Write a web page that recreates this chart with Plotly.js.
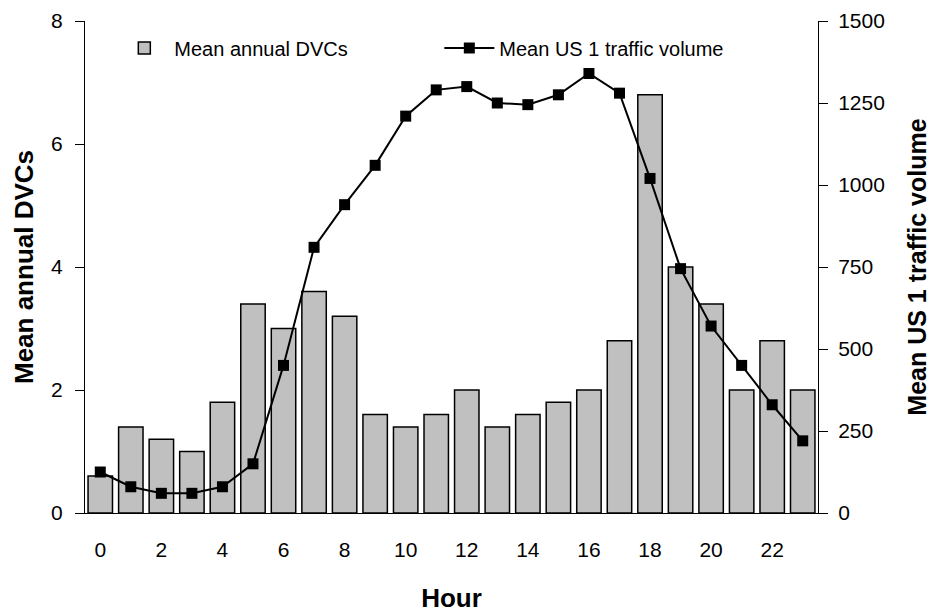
<!DOCTYPE html>
<html>
<head>
<meta charset="utf-8">
<script src="https://cdn.plot.ly/plotly-3.0.1.min.js"></script>
<style>html,body{margin:0;padding:0;background:#fff}#chart{width:932px;height:614px}</style>
</head>
<body>
<div id="chart"></div>
<script>
const hours = [0,1,2,3,4,5,6,7,8,9,10,11,12,13,14,15,16,17,18,19,20,21,22,23];
const meanDVCs = [0.6,1.4,1.2,1.0,1.8,3.4,3.0,3.6,3.2,1.6,1.4,1.6,2.0,1.4,1.6,1.8,2.0,2.8,6.8,4.0,3.4,2.0,2.8,2.0];
const trafficVolume = [125,80,60,60,80,150,450,810,940,1060,1210,1290,1300,1250,1245,1275,1340,1280,1020,745,570,450,330,220];
const hourLabels = ['0','2','4','6','8','10','12','14','16','18','20','22'];
const hourLabelVals = [0,2,4,6,8,10,12,14,16,18,20,22];
const boundaries = hours.map(h => h - 0.5).concat([23.5]);

const font = 'Liberation Sans, Arial, sans-serif';

const traces = [
  {
    type: 'bar', x: hours, y: meanDVCs, name: 'Mean annual DVCs',
    width: 0.8,
    marker: {color: '#c0c0c0', line: {color: '#000', width: 1.5}},
    xaxis: 'x', yaxis: 'y'
  },
  {
    type: 'scatter', mode: 'lines+markers', x: hours, y: trafficVolume,
    name: 'Mean US 1 traffic volume',
    line: {color: '#000', width: 2},
    marker: {symbol: 'square', size: 11, color: '#000'},
    xaxis: 'x', yaxis: 'y2'
  }
];

const layout = {
  width: 932, height: 614,
  margin: {l: 85, r: 114, t: 21, b: 101},
  paper_bgcolor: '#fff', plot_bgcolor: '#fff',
  font: {family: font, size: 21, color: '#000'},
  showlegend: true,
  legend: {
    orientation: 'h', x: 0.04, y: 0.985, xanchor: 'left', yanchor: 'top',
    font: {family: font, size: 20, color: '#000'},
    bgcolor: 'rgba(0,0,0,0)', entrywidth: 260, entrywidthmode: 'pixels', traceorder: 'normal',
    itemwidth: 50
  },
  xaxis: {
    range: [-0.5, 23.5], tickmode: 'array', tickvals: hourLabelVals, ticktext: hourLabels,
    ticks: '', showgrid: false, zeroline: false, showline: true, linecolor: '#000', linewidth: 1,
    tickfont: {family: font, size: 21}, ticklabelstandoff: 18,
    title: {text: 'Hour', font: {family: font, size: 26, weight: 'bold'}, standoff: 28}
  },
  xaxis2: {
    overlaying: 'x', range: [-0.5, 23.5], tickmode: 'array', tickvals: boundaries,
    ticks: 'outside', ticklen: 9, tickcolor: '#000', tickwidth: 1,
    showticklabels: false, showgrid: false, zeroline: false, anchor: 'y', side: 'bottom'
  },
  yaxis: {
    range: [0, 8], tickvals: [0,2,4,6,8], ticks: 'outside', ticklen: 9, tickcolor: '#000',
    showgrid: false, zeroline: false, showline: true, linecolor: '#000', linewidth: 1,
    tickfont: {family: font, size: 21}, ticklabelstandoff: 8,
    title: {text: 'Mean annual DVCs', font: {family: font, size: 26, weight: 'bold'}, standoff: 10}
  },
  yaxis2: {
    overlaying: 'y', side: 'right', range: [0, 1500], tickvals: [0,250,500,750,1000,1250,1500],
    ticks: 'outside', ticklen: 9, tickcolor: '#000',
    showgrid: false, zeroline: false, showline: true, linecolor: '#000', linewidth: 1,
    tickfont: {family: font, size: 21}, ticklabelstandoff: 6,
    title: {text: 'Mean US 1 traffic volume', font: {family: font, size: 25, weight: 'bold'}, standoff: 24}
  }
};

Plotly.newPlot('chart', traces, layout, {displayModeBar: false, staticPlot: true});
</script>
</body>
</html>
